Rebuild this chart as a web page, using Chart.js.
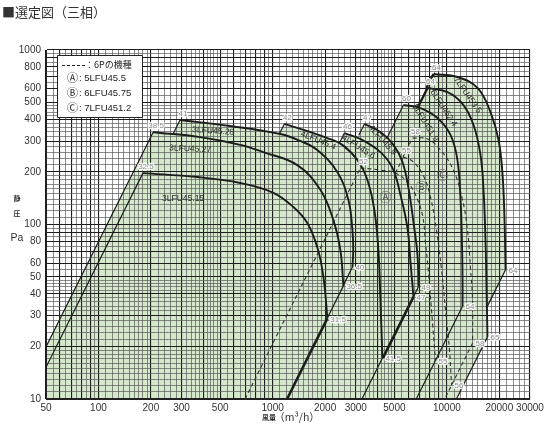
<!DOCTYPE html>
<html lang="ja">
<head>
<meta charset="UTF-8">
<title>選定図（三相）</title>
<script src="https://cdn.jsdelivr.net/npm/chart.js"></script>
<style>
  html, body { margin: 0; padding: 0; background: #fff; }
  .wrap { position: relative; width: 550px; height: 427px; }
</style>
</head>
<body>
<div class="wrap"><canvas id="selChart" width="550" height="427"></canvas></div>
<script>
// 軸の目盛ラベル
const xTickLabels = [50, 100, 200, 300, 500, 1000, 2000, 3000, 5000, 10000, 20000, 30000];
const yTickLabels = [10, 20, 30, 40, 50, 60, 80, 100, 200, 300, 400, 500, 600, 800, 1000];

// 各機種の性能曲線 [風量 m3/h, 静圧 Pa]
const fan3LFU45_15 = [[180, 197], [369, 187], [652, 173], [1009, 152], [1315, 126], [1581, 102], [1803, 74], [1927, 55], [2004, 40.5], [2060, 29]];
const fan3LFU45_27 = [[206, 338], [384, 317], [652, 286], [883, 260], [1385, 219], [1878, 158], [2230, 106], [2449, 71], [2547, 44.5]];
const fan3LFU45_28 = [[294, 397], [570, 367], [1107, 330], [1442, 301], [1803, 267], [2350, 200], [2721, 138], [2869, 93], [2900, 71], [2869, 57]];
const fan4LFU45_4 = [[1167, 377], [1644, 339], [2060, 313], [2510, 286], [3065, 234], [3497, 180], [3835, 121], [4046, 71], [4155, 37], [4265, 17.2]];
const fan4LFU45_6 = [[2582, 334], [3190, 309], [4155, 260], [4873, 211], [5414, 148], [5940, 95.5], [6180, 61], [6431, 38.5]];
const fan4LFU45_9 = [[3362, 377], [4155, 339], [4936, 286], [5560, 228], [6017, 162], [6431, 103], [6780, 67], [6870, 44]];
const fan5LFU451_9 = [[5634, 484], [7050, 465], [8830, 408], [10490, 326], [11500, 234], [11980, 138], [12200, 81.5], [12300, 48], [12300, 34]];
const fan6LFU452_4 = [[7740, 606], [10080, 574], [12300, 491], [14220, 372], [15600, 250], [16230, 158], [16660, 81.5], [16900, 42], [17100, 22.7]];
const fan7LFU453_5 = [[8375, 728], [11500, 700], [15000, 606], [17800, 441], [19800, 305], [20880, 192], [21430, 106], [21720, 55]];

const fanNames = ['3LFU45.15', '3LFU45.27', '3LFU45.28', '4LFU45.4', '4LFU45.6', '4LFU45.9', '5LFU451.9', '6LFU452.4', '7LFU453.5'];
const fanCurves = [fan3LFU45_15, fan3LFU45_27, fan3LFU45_28, fan4LFU45_4, fan4LFU45_6, fan4LFU45_9, fan5LFU451_9, fan6LFU452_4, fan7LFU453_5];
const fanStartNoise = ['32.5', '38.5', '41', '42', '46', '47', '60', '64', '64'];
const fanEndNoise = ['31.5', '36.5', '40', '41.5', '47', '49', '64', '65', '64'];
// 抵抗曲線(P∝Q²)を引く範囲の下端の静圧
const fanLeftFrom = [10, 10, 330, 330, 290, 325, 310, 470, 606];
const fanRightTo = [10, 29, 44.5, 10, 17.2, 38.5, 10, 10, 33.5];

// 6Pの機種（破線）
const fan5LFU45_5 = [[3190, 211], [4155, 205], [5070, 197], [5940, 175], [6600, 148], [7245, 113], [7535, 79], [7840, 53], [8265, 27.6], [8600, 16.6]];
const fan6LFU45_75 = [[5634, 244], [6431, 228], [7340, 190], [8050, 144], [8715, 93], [9320, 55], [9815, 32.4], [10350, 19.1], [10640, 12]];
const fan7LFU451_2 = [[6347, 313], [7740, 309], [9190, 267], [10900, 205], [12300, 138], [13130, 93], [13680, 55], [14040, 37], [14040, 20.9]];

const sixPNames = ['5LFU45.5', '6LFU45.75', '7LFU451.2'];
const sixPMarks = ['Ⓐ', 'Ⓑ', 'Ⓒ'];
const sixPCurves = [fan5LFU45_5, fan6LFU45_75, fan7LFU451_2];
const sixPStartNoise = ['52', '55', '58'];
const sixPEndNoise = ['55', '56', '58'];
const sixPLeftFrom = [10, 197, 244];
const sixPRightTo = [16.6, 12, 10];

// 線の太さ
const leftWidth = [1.2, 1.2, 1.2, 1.2, 1.2, 1.2, 1.2, 2.4, 2.4];
const rightWidth = [2.6, 1.2, 1.2, 1.2, 2.6, 1.2, 1.2, 1.2, 1.2];

// 機種名の位置と傾き
const modelLabels = [
    { text: '3LFU45.28', q: 456, p: 343, rot: 4 },
    { text: '3LFU45.27', q: 336, p: 271, rot: 3 },
    { text: '3LFU45.15', q: 306, p: 140, rot: 0 },
    { text: '4LFU45.4', q: 1828, p: 303, rot: 22 },
    { text: '4LFU45.6', q: 3105, p: 278, rot: 32 },
    { text: '4LFU45.9', q: 4265, p: 305, rot: 48 },
    { text: '5LFU451.9', q: 7535, p: 382, rot: 58 },
    { text: '6LFU452.4', q: 9563, p: 465, rot: 57 },
    { text: '7LFU453.5', q: 13150, p: 552, rot: 55 }
];
const markPos = [[4440, 142], [7145, 164], [9433, 190]];

const NUM_FONT = '"Liberation Sans", Arial, sans-serif';
const JP_FONT = '"Noto Sans CJK JP", sans-serif';

// 対数方眼の線
function gridValues(min, max) {
    const vals = [];
    for (let d = 1; d <= 10000; d *= 10) {
        for (let m = 10; m < 100;) {
            const v = m * d / 10;
            if (v >= min && v <= max) vals.push(v);
            m += m < 20 ? 1 : (m < 50 ? 2 : 5);
        }
    }
    if (vals[vals.length - 1] !== max) vals.push(max);
    return vals;
}
function isMajor(v) {
    const m = v / Math.pow(10, Math.floor(Math.log10(v) + 1e-9));
    return Math.abs(m - Math.round(m)) < 1e-6;
}

const toPts = arr => arr.map(([q, p]) => ({ x: q, y: p }));
const datasets = [];
const curveIdx = [];

fanCurves.forEach((c, i) => {
    curveIdx.push(datasets.length);
    datasets.push({ data: toPts(c), borderColor: '#1c1c1c', borderWidth: 1.9, tension: 0.4 });
    const [q0, p0] = c[0];
    const [q1, p1] = c[c.length - 1];
    if (fanLeftFrom[i] < p0) {
        datasets.push({ data: toPts([[q0 * Math.sqrt(fanLeftFrom[i] / p0), fanLeftFrom[i]], [q0, p0]]), borderColor: '#1c1c1c', borderWidth: leftWidth[i], tension: 0 });
    }
    if (fanRightTo[i] < p1) {
        datasets.push({ data: toPts([[q1, p1], [q1 * Math.sqrt(fanRightTo[i] / p1), fanRightTo[i]]]), borderColor: '#1c1c1c', borderWidth: rightWidth[i], tension: 0 });
    }
});

sixPCurves.forEach((c, i) => {
    datasets.push({ data: toPts(c), borderColor: '#333', borderWidth: 1.1, borderDash: [4, 3], tension: 0.4 });
    const [q0, p0] = c[0];
    const [q1, p1] = c[c.length - 1];
    if (sixPLeftFrom[i] < p0) {
        datasets.push({ data: toPts([[q0 * Math.sqrt(sixPLeftFrom[i] / p0), sixPLeftFrom[i]], [q0, p0]]), borderColor: '#333', borderWidth: 1.1, borderDash: [4, 3], tension: 0 });
    }
    if (sixPRightTo[i] < p1) {
        datasets.push({ data: toPts([[q1, p1], [q1 * Math.sqrt(sixPRightTo[i] / p1), sixPRightTo[i]]]), borderColor: '#333', borderWidth: 1.1, borderDash: [4, 3], tension: 0 });
    }
});

// 緑の運転範囲（グリッドより下に塗る）
const regionFill = {
    id: 'regionFill',
    beforeDraw(chart) {
        const { ctx, chartArea: a, scales: { x, y } } = chart;
        ctx.save();
        ctx.beginPath();
        ctx.rect(a.left, a.top, a.right - a.left, a.bottom - a.top);
        ctx.clip();
        ctx.fillStyle = '#d5e8cc';
        curveIdx.forEach((dsIdx, i) => {
            const line = chart.getDatasetMeta(dsIdx).dataset;
            const c = fanCurves[i];
            const [q0, p0] = c[0];
            const [q1, p1] = c[c.length - 1];
            ctx.beginPath();
            if (line && typeof line.path === 'function') {
                line.updateControlPoints(a, 'x');
                line.path(ctx);
            } else {
                c.forEach(([q, p], k) => k ? ctx.lineTo(x.getPixelForValue(q), y.getPixelForValue(p)) : ctx.moveTo(x.getPixelForValue(q), y.getPixelForValue(p)));
            }
            ctx.lineTo(x.getPixelForValue(q1 * Math.sqrt(10 / p1)), y.getPixelForValue(10));
            ctx.lineTo(x.getPixelForValue(q0 * Math.sqrt(10 / p0)), y.getPixelForValue(10));
            ctx.closePath();
            ctx.fill();
        });
        ctx.restore();
    }
};

function haloText(ctx, text, px, py) {
    ctx.strokeText(text, px, py);
    ctx.fillText(text, px, py);
}

// 文字類
const textLayer = {
    id: 'textLayer',
    afterDatasetsDraw(chart) {
        const { ctx, chartArea: a, scales: { x, y } } = chart;
        ctx.save();

        // 騒音値
        ctx.font = '8px ' + NUM_FONT;
        ctx.fillStyle = '#8a8a8a';
        ctx.strokeStyle = 'rgba(255,255,255,0.9)';
        ctx.lineWidth = 2.5;
        ctx.lineJoin = 'round';
        const noise = (curves, starts, ends) => curves.forEach((c, i) => {
            const s = c[0], e = c[c.length - 1];
            ctx.textAlign = 'center';
            ctx.textBaseline = 'bottom';
            haloText(ctx, starts[i], x.getPixelForValue(s[0]) + 3, y.getPixelForValue(s[1]) - 2);
            ctx.textAlign = 'left';
            ctx.textBaseline = 'middle';
            haloText(ctx, ends[i], x.getPixelForValue(e[0]) + 3, y.getPixelForValue(e[1]) + 1);
        });
        noise(fanCurves, fanStartNoise, fanEndNoise);
        noise(sixPCurves, sixPStartNoise, sixPEndNoise);

        // 機種名
        ctx.font = '8.5px ' + NUM_FONT;
        ctx.fillStyle = '#2a2a2a';
        ctx.textAlign = 'center';
        ctx.textBaseline = 'middle';
        modelLabels.forEach(l => {
            ctx.save();
            ctx.translate(x.getPixelForValue(l.q), y.getPixelForValue(l.p));
            ctx.rotate(l.rot * Math.PI / 180);
            ctx.fillText(l.text, 0, 0);
            ctx.restore();
        });

        // Ⓐ Ⓑ Ⓒ
        ctx.font = '12px ' + JP_FONT;
        ctx.fillStyle = '#555';
        markPos.forEach(([q, p], i) => ctx.fillText(sixPMarks[i], x.getPixelForValue(q), y.getPixelForValue(p)));

        // 凡例
        const bx = a.left + 11, by = a.top + 5;
        ctx.fillStyle = '#fff';
        ctx.fillRect(bx, by, 85, 62);
        ctx.strokeStyle = '#222';
        ctx.lineWidth = 1;
        ctx.strokeRect(bx + 0.5, by + 0.5, 85, 62);
        ctx.setLineDash([3, 2]);
        ctx.beginPath();
        ctx.moveTo(bx + 5, by + 10.5);
        ctx.lineTo(bx + 29, by + 10.5);
        ctx.stroke();
        ctx.setLineDash([]);
        ctx.fillStyle = '#222';
        ctx.textAlign = 'left';
        ctx.font = '9px ' + JP_FONT;
        ctx.fillText('：6Pの機種', bx + 28, by + 10);
        sixPNames.forEach((n, i) => {
            const ly = by + 23 + i * 15;
            ctx.font = '11px ' + JP_FONT;
            ctx.fillText(sixPMarks[i], bx + 10, ly);
            ctx.font = '9.5px ' + NUM_FONT;
            ctx.fillText(': ' + n, bx + 22, ly);
        });

        // タイトル・軸名
        ctx.fillStyle = '#333';
        ctx.textBaseline = 'alphabetic';
        ctx.font = '13px ' + JP_FONT;
        ctx.fillText('■選定図（三相）', 2, 17);
        ctx.textAlign = 'center';
        ctx.font = 'bold 7px ' + JP_FONT;
        ctx.fillText('静', 17, 201);
        ctx.fillText('圧', 17, 216);
        ctx.font = '10.5px ' + NUM_FONT;
        ctx.fillText('Pa', 17, 241);
        ctx.font = 'bold 7px ' + JP_FONT;
        ctx.fillText('風量', 269, 420);
        ctx.font = '10.5px ' + JP_FONT;
        ctx.fillText('（m³/h）', 297, 421);
        ctx.restore();
    }
};

const gridX = gridValues(50, 30000);
const gridY = gridValues(10, 1000);
const gridStyle = {
    color: c => (c.tick && isMajor(c.tick.value)) ? '#1e1e1e' : '#5a5a5a',
    lineWidth: c => (c.tick && isMajor(c.tick.value)) ? 1.1 : 0.7,
    drawTicks: false
};

new Chart(document.getElementById('selChart'), {
    type: 'line',
    data: { datasets },
    options: {
        responsive: false,
        animation: false,
        events: [],
        layout: { padding: { top: 50, right: 20, left: 0, bottom: 0 } },
        elements: { point: { radius: 0 } },
        plugins: { legend: { display: false }, tooltip: { enabled: false } },
        scales: {
            x: {
                type: 'logarithmic', min: 50, max: 30000,
                afterBuildTicks: s => { s.ticks = gridX.map(v => ({ value: v })); },
                afterFit: s => { s.height = 28; },
                grid: gridStyle,
                border: { color: '#222', width: 1 },
                ticks: {
                    autoSkip: false, maxRotation: 0, padding: 3,
                    color: '#333', font: { size: 10, family: NUM_FONT },
                    callback: v => xTickLabels.includes(v) ? String(v) : ''
                }
            },
            y: {
                type: 'logarithmic', min: 10, max: 1000,
                afterBuildTicks: s => { s.ticks = gridY.map(v => ({ value: v })); },
                afterFit: s => { s.width = 46; },
                grid: gridStyle,
                border: { color: '#222', width: 1 },
                ticks: {
                    autoSkip: false, padding: 5,
                    color: '#333', font: { size: 10, family: NUM_FONT },
                    callback: v => yTickLabels.includes(v) ? String(v) : ''
                }
            }
        }
    },
    plugins: [regionFill, textLayer]
});
</script>
</body>
</html>
